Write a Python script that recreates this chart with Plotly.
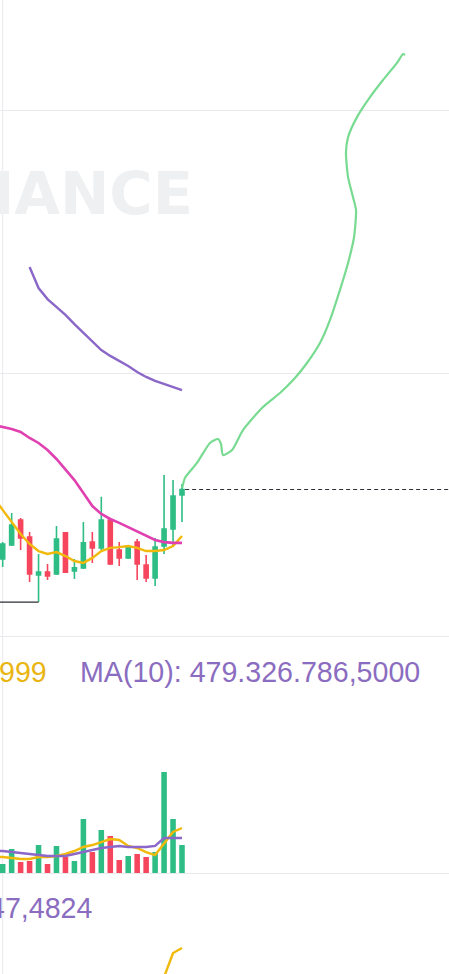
import plotly.graph_objects as go

# ---------------- data ----------------
candle_idx = list(range(21))
opens  = [10.293, 10.346, 10.441, 10.376, 10.232, 10.243, 10.236, 10.392, 10.247, 10.259, 10.357,
          10.335, 10.441, 10.327, 10.297, 10.357, 10.270, 10.221, 10.342, 10.407, 10.536]
highs  = [10.357, 10.468, 10.449, 10.395, 10.312, 10.274, 10.418, 10.395, 10.293, 10.433, 10.395,
          10.529, 10.445, 10.357, 10.338, 10.369, 10.308, 10.373, 10.612, 10.593, 10.578]
lows   = [10.262, 10.342, 10.327, 10.205, 10.129, 10.213, 10.232, 10.240, 10.217, 10.255, 10.278,
          10.327, 10.270, 10.266, 10.293, 10.213, 10.205, 10.190, 10.312, 10.338, 10.433]
closes = [10.350, 10.422, 10.373, 10.236, 10.243, 10.228, 10.369, 10.243, 10.259, 10.354, 10.335,
          10.441, 10.274, 10.297, 10.335, 10.274, 10.221, 10.338, 10.407, 10.532, 10.557]

ma_idx = list(range(-1, 21))
ma_short = [10.525, 10.479, 10.433, 10.388, 10.350, 10.323, 10.312, 10.319, 10.304, 10.285, 10.278,
            10.297, 10.323, 10.335, 10.338, 10.342, 10.335, 10.323, 10.323, 10.327, 10.342, 10.380]
ma_mid = [10.802, 10.795, 10.787, 10.776, 10.753, 10.734, 10.707, 10.673, 10.631, 10.593, 10.544,
          10.494, 10.464, 10.445, 10.430, 10.414, 10.395, 10.380, 10.365, 10.357, 10.354, 10.354]
ma_long = [None, None, None, None, 11.403, 11.323, 11.281, 11.251, 11.221, 11.186, 11.152,
           11.118, 11.087, 11.065, 11.046, 11.027, 11.004, 10.985, 10.970, 10.958, 10.947, 10.935]

# volume (millions)
volumes = [123, 329, 151, 164, 383, 123, 370, 219, 164, 739, 287,
           589, 507, 178, 233, 260, 219, 287, 1383, 739, 383]
vol_ma5 = [219, 219, 205, 192, 192, 219, 219, 233, 260, 301, 356,
           383, 424, 465, 452, 370, 342, 287, 246, 411, 561, 616]
vol_ma10 = [301, 301, 287, 274, 260, 246, 233, 233, 233, 260, 287,
            315, 342, 356, 370, 356, 356, 356, 370, 479, 479, 479.3]

# lower indicator pane (only the tail is visible)
ind_idx = [15, 16, 17, 18, 19, 20]
ind_vals = [-60, -45, -30, -3, 21, 26]

# hand-drawn green stroke (x in candle units, y in price)
draw_x = [20.02, 20.33, 21.67, 23.12, 24.02, 24.35, 24.57, 25.58, 26.80, 29.03, 30.93, 32.60,
          33.94, 35.39, 36.51, 37.62, 38.52, 39.19, 39.41, 39.07, 38.52, 38.29, 38.52, 39.52,
          40.97, 42.42, 43.98, 44.65, 44.88]
draw_y = [10.563, 10.601, 10.658, 10.734, 10.749, 10.730, 10.688, 10.707, 10.783, 10.871, 10.924,
          10.981, 11.038, 11.114, 11.202, 11.316, 11.418, 11.517, 11.620, 11.669, 11.745, 11.837,
          11.897, 11.973, 12.049, 12.114, 12.179, 12.213, 12.209]

vol_header_ma5 = "999"
vol_header_ma10 = "MA(10): 479.326.786,5000"
ind_header = "47,4824"
watermark = "BINANCE"

GREEN = "#2ebd85"
RED = "#f6465d"
YELLOW = "#f0b90b"
PINK = "#e040b0"
PURPLE = "#8a67c8"
GRID = "#e9e9ee"

fig = go.Figure()

# candles
fig.add_trace(go.Candlestick(
    x=candle_idx, open=opens, high=highs, low=lows, close=closes,
    increasing=dict(line=dict(color=GREEN, width=1.6), fillcolor=GREEN),
    decreasing=dict(line=dict(color=RED, width=1.6), fillcolor=RED),
    xaxis="x", yaxis="y", showlegend=False,
))

# price MAs
fig.add_trace(go.Scatter(x=ma_idx, y=ma_short, mode="lines", line=dict(color=YELLOW, width=2.4),
                         xaxis="x", yaxis="y", showlegend=False))
fig.add_trace(go.Scatter(x=ma_idx, y=ma_mid, mode="lines", line=dict(color=PINK, width=2.6),
                         xaxis="x", yaxis="y", showlegend=False))
fig.add_trace(go.Scatter(x=ma_idx, y=ma_long, mode="lines", line=dict(color=PURPLE, width=2.4),
                         xaxis="x", yaxis="y", showlegend=False))

# lowest price marker line
low_val = min(lows)
low_i = lows.index(low_val)
fig.add_trace(go.Scatter(x=[-1, low_i], y=[low_val, low_val], mode="lines",
                         line=dict(color="#2b2f36", width=1.2),
                         xaxis="x", yaxis="y", showlegend=False))

# current price dashed line
fig.add_trace(go.Scatter(x=[candle_idx[-1] + 0.35, 60], y=[closes[-1], closes[-1]], mode="lines",
                         line=dict(color="#2b2f36", width=1.1, dash="4px,3px"),
                         xaxis="x", yaxis="y", showlegend=False))

# hand-drawn stroke
fig.add_trace(go.Scatter(x=draw_x, y=draw_y, mode="lines",
                         line=dict(color="#72d98c", width=2.2, shape="spline", smoothing=0.6),
                         opacity=0.95, xaxis="x", yaxis="y", showlegend=False))

# volume
vol_colors = [GREEN if c >= o else RED for o, c in zip(opens, closes)]
fig.add_trace(go.Bar(x=candle_idx, y=volumes, marker=dict(color=vol_colors, line=dict(width=0)),
                     width=0.62, xaxis="x2", yaxis="y2", showlegend=False))
fig.add_trace(go.Scatter(x=ma_idx, y=vol_ma5, mode="lines", line=dict(color=YELLOW, width=2.4),
                         xaxis="x2", yaxis="y2", showlegend=False))
fig.add_trace(go.Scatter(x=ma_idx, y=vol_ma10, mode="lines", line=dict(color=PURPLE, width=2.4),
                         xaxis="x2", yaxis="y2", showlegend=False))

# lower indicator
fig.add_trace(go.Scatter(x=ind_idx, y=ind_vals, mode="lines", line=dict(color=YELLOW, width=2.4),
                         xaxis="x3", yaxis="y3", showlegend=False))

H = 974.0
xr = [-0.3, 49.78]
common_x = dict(range=xr, showgrid=False, zeroline=False, showticklabels=False, fixedrange=True)

fig.update_layout(
    width=449, height=974,
    margin=dict(l=0, r=0, t=0, b=0),
    paper_bgcolor="white", plot_bgcolor="white",
    boxgap=0.36,
    xaxis=dict(**common_x, rangeslider=dict(visible=False), anchor="y",
               showline=True, linecolor=GRID, linewidth=1, mirror=False),
    yaxis=dict(domain=[1 - 636 / H, 1], range=[10, 10 + 636 / 263], tickvals=[11, 12],
               showgrid=True, gridcolor=GRID, gridwidth=1, zeroline=False,
               showticklabels=False, anchor="x"),
    xaxis2=dict(**common_x, anchor="y2", showline=True, linecolor=GRID, linewidth=1),
    yaxis2=dict(domain=[1 - 873 / H, 1 - 636 / H], range=[0, 237 * 13.69], showgrid=False,
                zeroline=False, showticklabels=False, anchor="x2"),
    xaxis3=dict(**common_x, anchor="y3"),
    yaxis3=dict(domain=[0, 1 - 873 / H], range=[0, 101], showgrid=False, zeroline=False,
                showticklabels=False, anchor="x3"),
    shapes=[dict(type="line", xref="x", yref="paper", x0=0, x1=0, y0=0, y1=1,
                 line=dict(color=GRID, width=1), layer="below")],
    annotations=[
        dict(text="<b>" + watermark + "</b>", xref="paper", yref="paper", x=194 / 449, y=1 - 193 / H,
             xanchor="right", yanchor="middle", showarrow=False, borderpad=0,
             font=dict(family="DejaVu Sans", size=59, color="#eef0f2")),
        dict(text=vol_header_ma5, xref="paper", yref="paper", x=48 / 449, y=1 - 672 / H,
             xanchor="right", yanchor="middle", showarrow=False, borderpad=0,
             font=dict(family="Liberation Sans", size=28.6, color="#e9b512")),
        dict(text=vol_header_ma10, xref="paper", yref="paper", x=79 / 449, y=1 - 672 / H,
             xanchor="left", yanchor="middle", showarrow=False, borderpad=0,
             font=dict(family="Liberation Sans", size=28.6, color="#8a6cc0")),
        dict(text=ind_header, xref="paper", yref="paper", x=93 / 449, y=1 - 908 / H,
             xanchor="right", yanchor="middle", showarrow=False, borderpad=0,
             font=dict(family="Liberation Sans", size=28.6, color="#8a6cc0")),
    ],
)

fig.write_html("out.html", config={"displayModeBar": False},
               post_script="document.body.style.margin='0px';document.body.style.overflow='hidden';")
